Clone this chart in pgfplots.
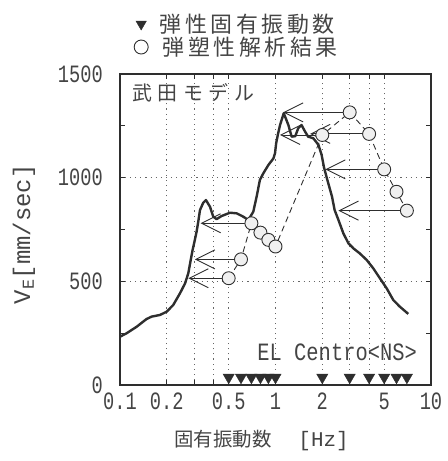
\documentclass[border=0pt]{standalone}
\usepackage{fontspec}
\usepackage{pgfplots}
\pgfplotsset{compat=1.18}
\usetikzlibrary{arrows.meta}
\newfontfamily\jp{Noto Sans CJK JP}
\newfontfamily\monoS[FakeStretch=0.75]{Liberation Mono}
\newfontfamily\monoT[FakeStretch=0.82]{Liberation Mono}
\newfontfamily\mono{Liberation Mono}
\definecolor{ink}{HTML}{2E2E2E}
\definecolor{txt}{HTML}{444444}
\definecolor{grd}{HTML}{666666}
\newcommand\gp{\hspace{3.6bp}}
\newcommand\gq{\hspace{5.5bp}}

\pgfplotstableread{
f V
0.100 233
0.110 249
0.128 281
0.148 318
0.160 330
0.181 338
0.200 354
0.220 386
0.243 442
0.262 490
0.275 539
0.285 603
0.293 651
0.303 700
0.311 740
0.319 790
0.327 844
0.343 879
0.357 892
0.379 860
0.398 812
0.418 800
0.450 815
0.510 831
0.563 828
0.620 812
0.669 796
0.720 836
0.756 908
0.794 989
0.835 1021
0.900 1061
0.970 1093
0.993 1118
1.010 1166
1.040 1214
1.070 1254
1.130 1311
1.210 1254
1.270 1198
1.340 1200
1.400 1238
1.470 1254
1.550 1222
1.620 1198
1.750 1190
1.890 1158
1.980 1110
2.050 1050
2.150 992
2.310 908
2.400 844
2.540 796
2.730 732
2.940 684
3.170 659
3.480 635
3.860 603
4.250 563
4.690 515
5.190 466
5.720 410
6.300 378
7.140 343
}\spectrum

\pgfplotstableread{
f V
0.5 515
0.6 606
0.7 780
0.8 735
0.9 700
1.0 668
2.0 1206
3.0 1315
4.0 1211
5.0 1040
6.0 932
7.0 841
}\results

\pgfplotstableread{
f V
0.5 37
0.6 37
0.7 37
0.8 37
0.9 37
1.0 37
2.0 37
3.0 37
4.0 37
5.0 37
6.0 37
7.0 37
}\elastic

\begin{document}
\begin{tikzpicture}
\begin{axis}[
  at={(0,0)}, anchor=south west,
  scale only axis, width=311bp, height=311bp,
  xmode=log, xmin=0.1, xmax=10, ymin=0, ymax=1500,
  axis line style={ink, line width=1.1bp},
  xtick={0.1,0.2,0.3,0.4,0.5,1,2,3,4,5,10},
  xticklabels={0.1,0.2,,,0.5,1,2,,,5,10},
  minor xtick={},
  ytick={0,500,1000,1500}, yticklabels={0,500,1000,1500},
  minor ytick={250,750,1250},
  major tick length=5bp, minor tick length=5bp,
  tick style={ink, line width=0.8bp},
  xmajorgrids, ymajorgrids,
  major grid style={grd, line width=1.1bp, dash pattern=on 1.1bp off 4bp},
  tick label style={font=\monoS\fontsize{25}{25}\selectfont, text=txt, inner sep=0pt},
  xticklabel style={anchor=north, yshift=-8bp},
  yticklabel style={anchor=east, xshift=-17bp},
  ylabel={V\textsubscript{E}[mm/sec]},
  ylabel style={at={(axis description cs:-0.309,0.485)}, anchor=center, font=\mono\fontsize{24}{24}\selectfont, text=txt, inner sep=0pt},
  xlabel={{\jp\fontsize{19.5}{19.5}\selectfont 固有振動数}\hspace{27bp}{\mono\fontsize{21}{21}\selectfont [Hz]}},
  xlabel style={at={(axis description cs:0.455,-0.177)}, anchor=center, text=txt, inner sep=0pt},
  legend style={draw=none, fill=none, at={(axis description cs:0.045,1.198)}, anchor=north west,
    font=\jp\fontsize{22}{22}\selectfont, text=txt, nodes={inner sep=1.5bp}, row sep=0bp, inner sep=0pt},
  legend cell align=left,
]
\addlegendimage{only marks, mark=triangle*, mark size=6bp, mark options={rotate=180, fill=ink, draw=ink}}
\addlegendentry{\hspace{10bp}弾\gp 性\gp 固\gp 有\gp 振\gp 動\gp 数}
\addlegendimage{only marks, mark=o, mark size=7bp, mark options={draw=ink, line width=0.9bp}}
\addlegendentry{\hspace{13bp}弾\gp 塑\gp 性\gp 解\gp 析\gp 結\gp 果}

\addplot[forget plot, ink, line width=2.4bp, line join=round, mark=none] table[x=f, y=V] {\spectrum};
\addplot[forget plot, ink, line width=0.9bp, dash pattern=on 6bp off 4bp, mark=none] table[x=f, y=V] {\results};

\addplot[forget plot, ink, line width=0.9bp, -{Straight Barb[length=19bp,width=19bp]}] coordinates {(0.5,515) (0.275,515)};
\addplot[forget plot, ink, line width=0.9bp, -{Straight Barb[length=19bp,width=19bp]}] coordinates {(0.6,606) (0.303,606)};
\addplot[forget plot, ink, line width=0.9bp, -{Straight Barb[length=19bp,width=19bp]}] coordinates {(0.7,780) (0.330,780)};
\addplot[forget plot, ink, line width=0.9bp, -{Straight Barb[length=19bp,width=19bp]}] coordinates {(2.0,1206) (1.07,1206)};
\addplot[forget plot, ink, line width=0.9bp, -{Straight Barb[length=19bp,width=19bp]}] coordinates {(3.0,1315) (1.12,1315)};
\addplot[forget plot, ink, line width=0.9bp, -{Straight Barb[length=19bp,width=19bp]}] coordinates {(4.0,1211) (1.67,1211)};
\addplot[forget plot, ink, line width=0.9bp, -{Straight Barb[length=19bp,width=19bp]}] coordinates {(5.0,1040) (2.09,1040)};
\addplot[forget plot, ink, line width=0.9bp, -{Straight Barb[length=19bp,width=19bp]}] coordinates {(7.0,841) (2.54,841)};

\addplot[forget plot, only marks, mark=*, mark size=6.5bp, mark options={fill=gray!12, draw=ink, line width=0.9bp}] table[x=f, y=V] {\results};
\addplot[forget plot, only marks, mark=triangle*, mark size=6.5bp, mark options={rotate=180, fill=ink, draw=ink}] table[x=f, y=V] {\elastic};

\node[anchor=west, inner sep=0pt, font=\jp\fontsize{20}{20}\selectfont, text=txt] at (axis description cs:0.039,0.939) {武\gq 田\gq モ\gq デ\gq ル};
\node[anchor=east, inner sep=0pt, font=\monoT\fontsize{25}{25}\selectfont, text=txt] at (axis description cs:0.955,0.106) {EL Centro<NS>};
\end{axis}
\pgfresetboundingbox
\path (-120bp,-76bp) rectangle (328bp,385bp);
\end{tikzpicture}
\end{document}
